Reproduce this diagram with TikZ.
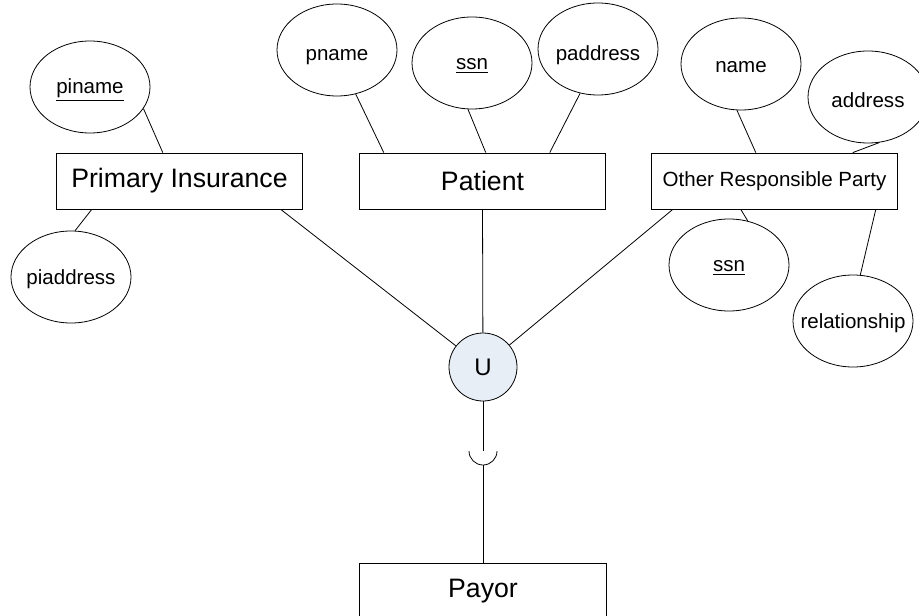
\documentclass[tikz,border=0pt]{standalone}
\usepackage{fontspec}
\setmainfont{Liberation Sans}
\usetikzlibrary{shapes.geometric, calc}
\definecolor{unionfill}{RGB}{232,238,246}

\begin{document}
\begin{tikzpicture}[
  x=0.75pt, y=-0.75pt,
  entity/.style={rectangle, draw, line width=0.6pt, minimum width=185pt, minimum height=42pt, inner sep=0pt, font=\fontsize{20}{24}\selectfont},
  attrfont/.style={font=\fontsize{15.4}{18}\selectfont},
  oval/.style={ellipse, draw, line width=0.6pt, minimum width=90pt, minimum height=69pt, inner sep=0pt},
  attr/.style={oval, label={[attrfont, yshift=-2pt]center:#1}},
  union/.style={circle, draw, line width=0.6pt, fill=unionfill, minimum size=51pt, inner sep=0pt, font=\fontsize{18}{20}\selectfont},
  link/.style={line width=0.6pt}
]
\useasboundingbox (0,0) rectangle (919,616);

% Entities
\node[entity] (insur) at (179.5,181) {Primary Insurance};
\node[entity] (patient) at (482.5,181) {Patient};
\node[entity, attrfont] (other) at (774.5,181) {Other Responsible Party};
\node[entity] (payor) at (483,591) {Payor};

% Attributes
\node[attr={\underline{piname}}] (piname) at (90,87) {};
\node[attr=piaddress] (piaddr) at (71,277) {};
\node[oval, label={[attrfont, yshift=-5pt]center:pname}] (pname) at (337,50) {};
\node[attr={\underline{ssn}}] (pssn) at (472,63) {};
\node[oval, label={[attrfont, yshift=-5pt]center:paddress}] (paddr) at (598,49) {};
\node[attr=name] (oname) at (741,64) {};
\node[attr=address] (oaddr) at (868,97) {};
\node[attr={\underline{ssn}}] (ossn) at (729,265) {};
\node[attr=relationship] (orel) at (853,321) {};

\draw[link] (piname.-22) -- ($(insur.north west)+(107,0)$);
\draw[link] (piaddr.85) -- ($(insur.south west)+(36,0)$);
\draw[link] (pname.-67) -- ($(patient.north west)+(25,0)$);
\draw[link] (pssn.-95) -- ($(patient.north west)+(127,0)$);
\draw[link] (paddr.-112) -- ($(patient.north west)+(191,0)$);
\draw[link] (oname.-95) -- ($(other.north west)+(105,0)$);
\draw[link] (oaddr.-76) -- ($(other.north west)+(202,0)$);
\draw[link] (ossn.67) -- ($(other.south west)+(90,0)$);
\draw[link] (orel.81) -- ($(other.south west)+(225,0)$);

% Union and subset link to Payor
\node[union] (U) at (483,367) {U};
\draw[link] ($(insur.south west)+(225,0)$) -- (U);
\draw[link] (patient.south) -- (U);
\draw[link] ($(other.south west)+(22,0)$) -- (U);

\coordinate (cup) at (483,451);
\coordinate (cupbot) at (483,465);
\draw[link] (U) -- (cup);
\draw[link] ($(cup)+(-14,0)$) arc[start angle=180, end angle=0, radius=14];
\draw[link] (cupbot) -- (payor);
\end{tikzpicture}
\end{document}
